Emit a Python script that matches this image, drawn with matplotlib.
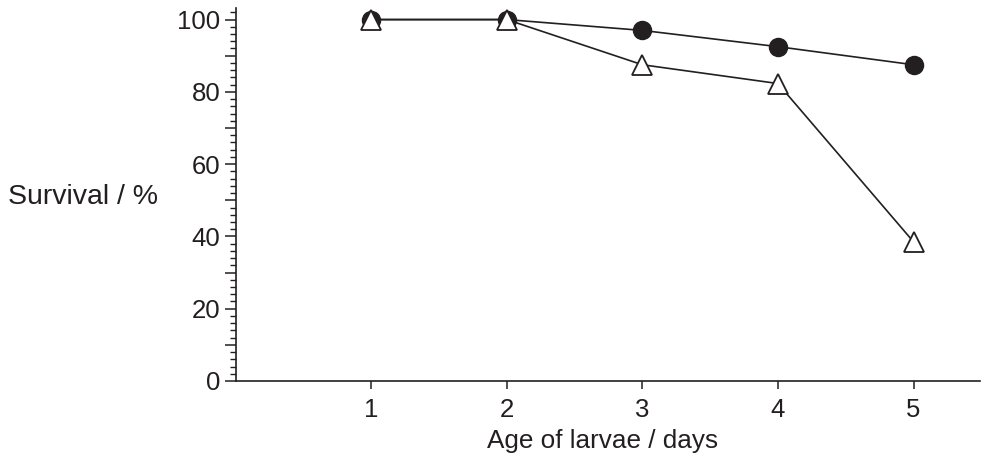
import matplotlib
matplotlib.use("Agg")
import matplotlib.pyplot as plt
from matplotlib.ticker import MultipleLocator, FuncFormatter

plt.rcParams['font.family'] = ['Liberation Sans', 'DejaVu Sans']

days = [1, 2, 3, 4, 5]
survival_circle = [100, 100, 97, 92.5, 87.5]
survival_triangle = [100, 100, 87.5, 82.3, 38.5]
x_ticks = [1, 2, 3, 4, 5]
y_label_values = [0, 20, 40, 60, 80, 100]

ink = '#231f20'
fs_tick = 18.5
fs_ylab = 20.5
fs_xlab = 18.8

fig = plt.figure(figsize=(9.94, 4.68), dpi=100)
ax = fig.add_axes([235.5/994, 1-381/468, (980-235.5)/994, (381-8)/468])

ax.plot(days, survival_circle, color=ink, lw=1.2, marker='o', ms=13,
        mfc=ink, mec=ink, zorder=3, clip_on=False)
ax.plot(days, survival_triangle, color=ink, lw=1.2, marker='^', ms=14,
        mfc='white', mec=ink, mew=1.3, zorder=4, clip_on=False)

ax.set_xlim(0, 5.49)
ax.set_ylim(0, 103.2)
ax.spines['top'].set_visible(False)
ax.spines['right'].set_visible(False)
for s in ('left', 'bottom'):
    ax.spines[s].set_color(ink)
    ax.spines[s].set_linewidth(1.2)

ax.set_xticks(x_ticks)
ax.set_xticklabels([str(d) for d in x_ticks])
ax.yaxis.set_major_locator(MultipleLocator(10))
ax.yaxis.set_minor_locator(MultipleLocator(2))
ax.yaxis.set_major_formatter(FuncFormatter(
    lambda v, p: f"{int(round(v))}" if int(round(v)) in y_label_values else ""))

ax.tick_params(axis='y', which='major', length=8, width=1.1, color=ink,
               labelsize=fs_tick, labelcolor=ink, pad=3)
ax.tick_params(axis='y', which='minor', length=4.5, width=1.0, color=ink)
ax.tick_params(axis='x', which='major', length=5.5, width=1.1, color=ink,
               labelsize=fs_tick, labelcolor=ink, pad=7)

fig.text(8/994, 1-197/468, 'Survival / %', fontsize=fs_ylab, color=ink,
         ha='left', va='center')
fig.text(603/994, 1-441/468, 'Age of larvae / days', fontsize=fs_xlab, color=ink,
         ha='center', va='center')

fig.savefig('out.png', dpi=100)
